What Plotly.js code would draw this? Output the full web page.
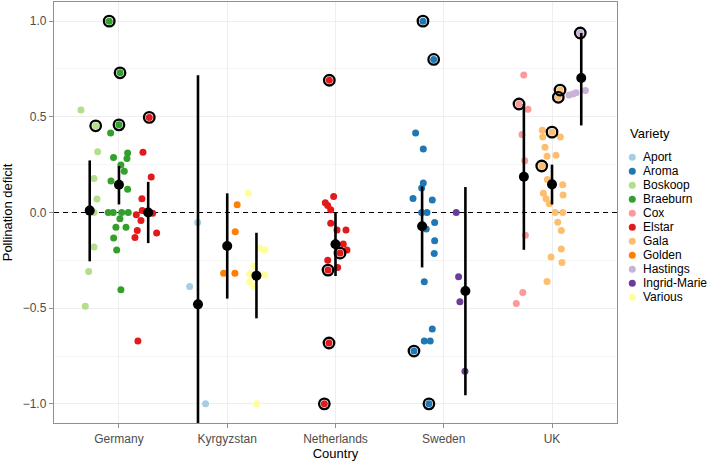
<!DOCTYPE html>
<html>
<head>
<meta charset="utf-8">
<script src="https://cdn.plot.ly/plotly-3.0.1.min.js"></script>
<style>html,body{margin:0;padding:0;background:#fff;}#chart{width:709px;height:464px;}</style>
</head>
<body>
<div id="chart"></div>
<script>
// ---------- data ----------
const countries = ['Germany', 'Kyrgyzstan', 'Netherlands', 'Sweden', 'UK'];
const varieties = ['Aport', 'Aroma', 'Boskoop', 'Braeburn', 'Cox', 'Elstar', 'Gala', 'Golden', 'Hastings', 'Ingrid-Marie', 'Various'];
const varietyColors = ['#A6CEE3', '#1F78B4', '#B2DF8A', '#33A02C', '#FB9A99', '#E31A1C', '#FDBF6F', '#FF7F00', '#CAB2D6', '#6A3D9A', '#FFFF99'];
const yTicks = [-1, -0.5, 0, 0.5, 1];
const yMinorTicks = [-0.75, -0.25, 0.25, 0.75];
const referenceLevel = 0;

// groups (country x variety): dodge offset, mean and interval
const groupCountry = ['Germany', 'Germany', 'Germany', 'Kyrgyzstan', 'Kyrgyzstan', 'Kyrgyzstan', 'Netherlands', 'Sweden', 'Sweden', 'UK', 'UK', 'UK'];
const groupVariety = ['Boskoop', 'Braeburn', 'Elstar', 'Aport', 'Golden', 'Various', 'Elstar', 'Aroma', 'Ingrid-Marie', 'Cox', 'Gala', 'Hastings'];
const groupDodge = [-0.27, 0, 0.27, -0.27, 0, 0.27, 0, -0.2, 0.2, -0.26, 0, 0.27];
const groupMean = [0.01, 0.145, 0.0, -0.48, -0.175, -0.33, -0.166, -0.072, -0.41, 0.187, 0.147, 0.703];
const groupLower = [-0.255, 0.042, -0.16, -1.68, -0.45, -0.553, -0.332, -0.287, -0.955, -0.195, 0.042, 0.455];
const groupUpper = [0.272, 0.243, 0.16, 0.717, 0.1, -0.106, 0.0, 0.136, 0.133, 0.567, 0.25, 0.938];

// observations per group: value, horizontal jitter (category units from country centre), ringed flag
const pointValues = [
  [0.535, 0.453, 0.317, 0.178, 0.07, 0, -0.18, -0.308, -0.49],
  [1.0, 0.73, 0.458, 0.415, 0.311, 0.287, 0.282, 0.248, 0.215, 0.164, 0.122, 0, 0, 0, 0, -0.033, -0.077, -0.077, -0.133, -0.196, -0.404],
  [0.497, 0.315, 0.185, 0.072, 0.01, -0.004, -0.012, -0.042, -0.094, -0.107, -0.13, -0.672],
  [-0.052, -0.387, -1.0],
  [0.04, -0.101, -0.317, -0.317],
  [0.1, -0.187, -0.196, -0.28, -0.322, -0.327, -0.362, -0.387, -1.0],
  [0.691, 0.084, 0.051, 0.037, 0.014, -0.056, -0.091, -0.091, -0.164, -0.212, -0.196, -0.25, -0.287, -0.301, -0.682, -1.0],
  [1.0, 0.8, 0.415, 0.332, 0.154, 0.128, 0.073, 0.065, 0, 0, -0.052, -0.086, -0.147, -0.214, -0.362, -0.609, -0.672, -0.672, -0.724, -1.0],
  [0, -0.336, -0.467, -0.829],
  [0.719, 0.567, 0.539, 0.408, 0.271, -0.119, -0.418, -0.476],
  [0.64, 0.602, 0.42, 0.43, 0.394, 0.395, 0.341, 0.294, 0.299, 0.243, 0.173, 0.145, 0.091, 0.101, 0.072, 0.046, 0, 0, -0.051, -0.094, -0.191, -0.233, -0.261, -0.361],
  [0.938, 0.614, 0.619, 0.626, 0.637]
];
const pointJitter = [
  [-0.351, -0.215, -0.197, -0.231, -0.203, -0.231, -0.231, -0.28, -0.311],
  [-0.09, 0.01, 0.0, -0.077, 0.08, -0.05, 0.074, 0.018, 0.049, -0.074, 0.08, -0.099, -0.053, 0.025, 0.086, 0.009, -0.028, 0.065, -0.049, -0.021, 0.018],
  [0.28, 0.222, 0.298, 0.212, 0.215, 0.311, 0.16, 0.203, 0.169, 0.348, 0.148, 0.175],
  [-0.273, -0.347, -0.2],
  [0.092, 0.074, -0.033, 0.071],
  [0.194, 0.302, 0.349, 0.247, 0.207, 0.346, 0.21, 0.247, 0.272],
  [-0.057, -0.017, -0.094, -0.072, -0.044, -0.044, 0.014, 0.097, 0.072, 0.042, 0.106, -0.072, 0.02, -0.069, -0.06, -0.103],
  [-0.192, -0.093, -0.26, -0.189, -0.189, -0.204, -0.284, -0.106, -0.204, -0.155, -0.084, -0.162, -0.084, -0.088, -0.18, -0.106, -0.18, -0.125, -0.275, -0.137],
  [0.115, 0.137, 0.149, 0.196],
  [-0.261, -0.305, -0.222, -0.277, -0.252, -0.246, -0.27, -0.33],
  [0.074, 0.058, 0, -0.09, -0.086, 0.077, -0.065, -0.046, 0.037, -0.095, -0.043, 0.099, 0.102, -0.08, -0.055, -0.025, 0.028, 0.099, 0.053, 0.086, 0.086, -0.009, 0.092, -0.046],
  [0.261, 0.157, 0.194, 0.222, 0.308]
];
const pointRinged = [
  [0, 1, 0, 0, 0, 0, 0, 0, 0],
  [1, 1, 1, 0, 0, 0, 0, 0, 0, 0, 0, 0, 0, 0, 0, 0, 0, 0, 0, 0, 0],
  [1, 0, 0, 0, 0, 0, 0, 0, 0, 0, 0, 0],
  [0, 0, 0],
  [0, 0, 0, 0],
  [0, 0, 0, 0, 0, 0, 0, 0, 0],
  [1, 0, 0, 0, 0, 0, 0, 0, 0, 1, 0, 0, 0, 1, 1, 1],
  [1, 1, 0, 0, 0, 0, 0, 0, 0, 0, 0, 0, 0, 0, 0, 0, 0, 0, 1, 1],
  [0, 0, 0, 0],
  [0, 1, 0, 0, 0, 0, 0, 0],
  [1, 1, 1, 0, 0, 0, 0, 0, 0, 1, 0, 0, 0, 0, 0, 0, 0, 0, 0, 0, 0, 0, 0, 0],
  [1, 0, 0, 0, 0]
];

// ---------- build traces ----------
const FONT = 'Liberation Sans, Arial, Helvetica, sans-serif';
const xRange = [0.4, 5.6];
const cIndex = c => countries.indexOf(c) + 1;
const traces = [];

// dashed reference line at zero deficit, spanning the axis range
traces.push({
  type: 'scatter', mode: 'lines', xaxis: 'x', yaxis: 'y',
  x: xRange, y: xRange.map(() => referenceLevel),
  line: {color: '#000', width: 1.2, dash: '5px,4px'},
  hoverinfo: 'skip', showlegend: false
});

groupCountry.forEach((c, g) => {
  const col = varietyColors[varieties.indexOf(groupVariety[g])];
  traces.push({
    type: 'scatter', mode: 'markers', xaxis: 'x', yaxis: 'y',
    x: pointJitter[g].map(d => cIndex(c) + d),
    y: pointValues[g],
    marker: {color: col, size: 7, line: {width: 0}},
    hoverinfo: 'skip', showlegend: false
  });
});

const ringX = [], ringY = [];
groupCountry.forEach((c, g) => {
  pointRinged[g].forEach((r, i) => {
    if (r) { ringX.push(cIndex(c) + pointJitter[g][i]); ringY.push(pointValues[g][i]); }
  });
});
traces.push({
  type: 'scatter', mode: 'markers', x: ringX, y: ringY,
  marker: {symbol: 'circle-open', size: 10.5, color: '#000', line: {width: 2.3, color: '#000'}},
  hoverinfo: 'skip', showlegend: false
});

traces.push({
  type: 'scatter', mode: 'markers',
  x: groupCountry.map((c, g) => cIndex(c) + groupDodge[g]),
  y: groupMean,
  error_y: {
    type: 'data', symmetric: false,
    array: groupUpper.map((u, g) => u - groupMean[g]),
    arrayminus: groupLower.map((l, g) => groupMean[g] - l),
    color: '#000', thickness: 2.6, width: 0
  },
  marker: {color: '#000', size: 10},
  hoverinfo: 'skip', showlegend: false
});

// custom legend (keys drawn on a hidden pixel-scaled axis pair)
traces.push({
  type: 'scatter', mode: 'markers', xaxis: 'x2', yaxis: 'y2',
  x: varieties.map(() => 632.3),
  y: varieties.map((v, i) => -i),
  marker: {color: varietyColors, size: 7},
  hoverinfo: 'skip', showlegend: false
});

const annotations = varieties.map((v, i) => ({
  xref: 'x2', yref: 'y2', x: 641, y: -i, text: v, showarrow: false,
  xanchor: 'left', yanchor: 'middle', font: {family: FONT, size: 12, color: '#000'}
}));
annotations.push({
  xref: 'x2', yref: 'y2', x: 628.5, y: 1.71, text: 'Variety', showarrow: false,
  xanchor: 'left', yanchor: 'middle', font: {family: FONT, size: 13, color: '#000'}
});

const axisCommon = {
  showline: true, mirror: true, linecolor: '#8f8f8f', linewidth: 1.2,
  ticks: 'outside', ticklen: 4, tickwidth: 1, tickcolor: '#8f8f8f',
  tickfont: {family: FONT, size: 12, color: '#4d4d4d'},
  zeroline: false, showgrid: true, gridcolor: '#eeeeee', gridwidth: 1
};

const xDomainEnd = 0.8595;
const layout = {
  width: 709, height: 464,
  margin: {l: 54, r: 0, t: 2, b: 41, pad: 0},
  paper_bgcolor: '#ffffff', plot_bgcolor: '#ffffff',
  showlegend: false,
  font: {family: FONT},
  xaxis: Object.assign({}, axisCommon, {
    domain: [0, xDomainEnd], range: xRange, anchor: 'y',
    tickmode: 'array', tickvals: countries.map((c, i) => i + 1), ticktext: countries,
    title: {text: 'Country', font: {family: FONT, size: 13, color: '#000'}, standoff: 2}
  }),
  yaxis: Object.assign({}, axisCommon, {
    range: [-1.1, 1.1], tickmode: 'array', tickvals: yTicks, tickformat: '.1f', anchor: 'x',
    minor: {tickmode: 'array', tickvals: yMinorTicks, showgrid: true, gridcolor: '#f3f3f3', gridwidth: 0.8, ticks: ''},
    title: {text: 'Pollination deficit', font: {family: FONT, size: 13, color: '#000'}, standoff: 8}
  }),
  xaxis2: {domain: [xDomainEnd, 1], range: [617, 709], visible: false, anchor: 'y2', fixedrange: true},
  yaxis2: {domain: [0, 1], range: [-18.98, 11.09], visible: false, anchor: 'x2', fixedrange: true},
  annotations: annotations
};

Plotly.newPlot('chart', traces, layout, {staticPlot: true, displayModeBar: false});
</script>
</body>
</html>
